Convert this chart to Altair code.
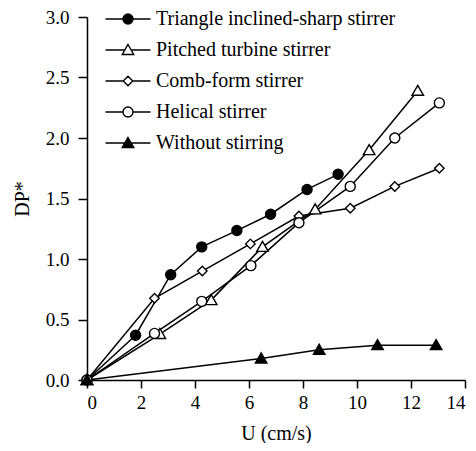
import altair as alt
import pandas as pd

series_names = [
    "Triangle inclined-sharp stirrer",
    "Pitched turbine stirrer",
    "Comb-form stirrer",
    "Helical stirrer",
    "Without stirring",
]

triangle_x = [0, 1.8, 3.1, 4.25, 5.55, 6.8, 8.15, 9.3]
triangle_y = [0, 0.37, 0.87, 1.10, 1.235, 1.37, 1.575, 1.70]

pitched_x = [0, 2.7, 4.6, 6.5, 8.45, 10.45, 12.25]
pitched_y = [0, 0.38, 0.66, 1.10, 1.41, 1.90, 2.39]

comb_x = [0, 2.5, 4.27, 6.05, 7.85, 9.75, 11.4, 13.05]
comb_y = [0, 0.675, 0.90, 1.125, 1.355, 1.42, 1.60, 1.75]

helical_x = [0, 2.5, 4.25, 6.07, 7.85, 9.75, 11.4, 13.05]
helical_y = [0, 0.385, 0.65, 0.945, 1.30, 1.60, 2.00, 2.29]

without_x = [0, 6.45, 8.6, 10.76, 12.93]
without_y = [0, 0.178, 0.25, 0.288, 0.288]

x_ticks = [0, 2, 4, 6, 8, 10, 12, 14]
y_ticks = [0.0, 0.5, 1.0, 1.5, 2.0, 2.5, 3.0]

rows = []
for name, xs, ys in zip(
    series_names,
    [triangle_x, pitched_x, comb_x, helical_x, without_x],
    [triangle_y, pitched_y, comb_y, helical_y, without_y],
):
    for xv, yv in zip(xs, ys):
        rows.append({"series": name, "U": xv, "DP": yv})
df = pd.DataFrame(rows)

FONT = "Liberation Serif"
CIRCLE = "M-1,0A1,1 0 1,1 1,0A1,1 0 1,1 -1,0Z"
TRI = "M0,-1.1L1.15,0.9L-1.15,0.9Z"
DIAM = "M0,-0.95L0.95,0L0,0.95L-0.95,0Z"
point_shapes = [CIRCLE, TRI, DIAM, CIRCLE, TRI]
fills = ["black", "white", "white", "white", "black"]
strokes = ["black"] * 5
L = 4.5
legend_shapes = [
    f"M-{L},0L{L},0" + CIRCLE,
    f"M-{L},0L-0.63,0M0.63,0L{L},0" + TRI,
    f"M-{L},0L-0.95,0M0.95,0L{L},0" + DIAM,
    f"M-{L},0L-1,0M1,0L{L},0" + CIRCLE,
    f"M-{L},0L{L},0" + TRI,
]

axis_style = dict(
    grid=False,
    domainColor="black", domainWidth=1.5,
    tickColor="black", tickWidth=1.5,
    labelFont=FONT, labelFontSize=19, labelColor="black",
    titleFont=FONT, titleFontSize=20, titleColor="black", titleFontWeight="normal",
)

x_enc = alt.X(
    "U:Q",
    scale=alt.Scale(domain=[0, 14], nice=False),
    axis=alt.Axis(
        values=x_ticks, title="U (cm/s)", format="d",
        tickSize=8, labelPadding=5, titlePadding=11, **axis_style,
    ),
)
y_enc = alt.Y(
    "DP:Q",
    scale=alt.Scale(domain=[0, 3], nice=False),
    axis=alt.Axis(
        values=y_ticks, title="DP*", format=".1f",
        tickSize=9, labelPadding=9, titlePadding=13, **axis_style,
    ),
)

base = alt.Chart(df)

lines = base.mark_line(color="black", strokeWidth=1.5).encode(
    x=x_enc, y=y_enc, detail="series:N"
)

points = base.mark_point(stroke="black", strokeWidth=1.4, opacity=1, size=100).encode(
    x=x_enc,
    y=y_enc,
    shape=alt.Shape("series:N", scale=alt.Scale(domain=series_names, range=point_shapes), legend=None),
    fill=alt.Fill("series:N", scale=alt.Scale(domain=series_names, range=fills), legend=None),
)

legend = alt.Legend(
    title=None, orient="none", legendX=31, legendY=-8,
    symbolSize=100, symbolStrokeWidth=1.4, symbolStrokeColor="black",
    labelFont=FONT, labelFontSize=20, labelColor="black",
    labelOffset=18, labelLimit=500, rowPadding=11, padding=0,
)

legend_layer = base.transform_filter("false").mark_point(
    strokeWidth=1.4, opacity=1, size=100
).encode(
    x=x_enc,
    y=y_enc,
    shape=alt.Shape("series:N", scale=alt.Scale(domain=series_names, range=legend_shapes), legend=legend),
    fill=alt.Fill("series:N", scale=alt.Scale(domain=series_names, range=fills), legend=legend),
    stroke=alt.Stroke("series:N", scale=alt.Scale(domain=series_names, range=strokes), legend=legend),
)

chart = (
    alt.layer(lines, points, legend_layer)
    .resolve_scale(shape="independent", fill="independent", stroke="independent")
    .properties(
        width=378, height=363,
        autosize=alt.AutoSizeParams(type="none"),
        padding={"left": 79, "top": 9, "right": 3, "bottom": 63},
    )
    .configure_view(stroke=None)
)

chart.save("out.html", embed_options={"renderer": "svg", "actions": False})
